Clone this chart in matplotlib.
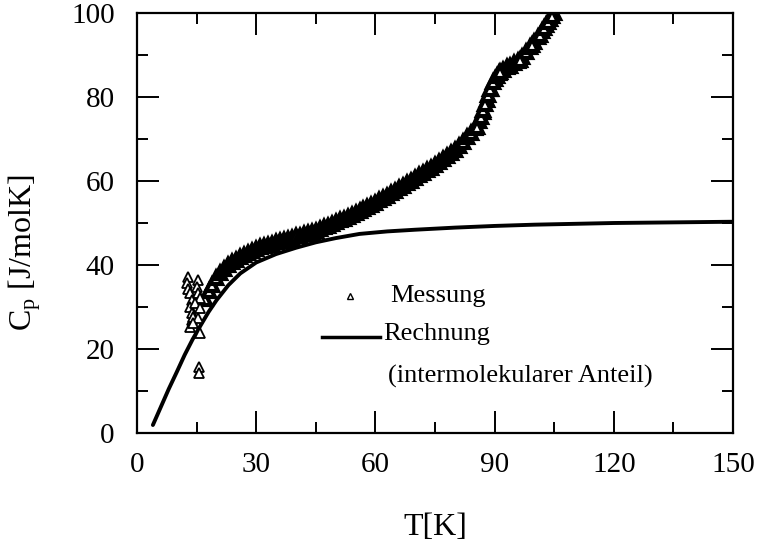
import matplotlib
matplotlib.use('Agg')
import matplotlib.pyplot as plt
from matplotlib.ticker import MultipleLocator

plt.rcParams['font.family'] = ['Liberation Serif', 'DejaVu Serif']
plt.rcParams['mathtext.fontset'] = 'custom'
plt.rcParams['mathtext.rm'] = 'Liberation Serif'
plt.rcParams['mathtext.it'] = 'Liberation Serif:italic'

# Messung: scattered low-temperature points
t_low = [12.9, 12.5, 12.9, 13.4, 13.8, 13.4, 13.8, 13.8, 13.4, 15.4, 15.0,
         15.4, 15.9, 14.6, 15.9, 14.2, 15.4, 14.2, 15.9, 15.7, 15.7]
cp_low = [37.2, 35.6, 34.4, 33.3, 31.7, 30.1, 28.5, 26.9, 25.3, 36.4, 34.8,
          33.3, 32.1, 30.9, 29.7, 27.7, 27.3, 26.1, 23.7, 15.8, 14.2]

# Messung: dense band
t_meas = [17, 18, 19, 20, 21, 22, 23, 24, 25, 26, 27, 28, 29, 30, 31, 32, 33,
          34, 35, 36, 37, 38, 39, 40, 41, 42, 43, 44, 45, 46, 47, 48, 49, 50,
          51, 52, 53, 54, 55, 56, 57, 58, 59, 60, 61, 62, 63, 64, 65, 66, 67,
          68, 69, 70, 71, 72, 73, 74, 75, 76, 77, 78, 79, 80, 81, 82, 83, 84,
          85, 86, 87, 88, 89, 90, 91, 92, 93, 94, 95, 96, 97, 98, 99, 100,
          101, 102, 103, 104, 105]
cp_meas = [32.0, 33.8, 35.3, 36.8, 38.0, 39.0, 39.9, 40.6, 41.3, 41.9, 42.4,
           42.9, 43.4, 43.8, 44.2, 44.5, 44.8, 45.1, 45.4, 45.7, 46.0, 46.2,
           46.5, 46.8, 47.0, 47.3, 47.6, 47.9, 48.2, 48.6, 49.0, 49.4, 49.8,
           50.2, 50.6, 51.0, 51.4, 51.9, 52.3, 52.8, 53.3, 53.8, 54.3, 54.8,
           55.4, 56.0, 56.5, 57.1, 57.7, 58.3, 58.9, 59.5, 60.1, 60.8, 61.4,
           62.0, 62.6, 63.2, 63.8, 64.5, 65.2, 65.9, 66.6, 67.3, 68.3, 69.3,
           70.4, 71.5, 72.6, 74.2, 76.4, 79.3, 82.0, 84.2, 85.6, 86.5, 87.1,
           87.5, 88.0, 88.6, 89.5, 90.6, 91.8, 93.1, 94.4, 95.7, 97.1, 98.6,
           100.1]
# extra readings in the steep part of the band
t_meas_steep = [85.6, 86.5, 87.2, 87.7, 88.4, 88.9, 89.7, 90.5, 91.4, 96.5,
                99.5, 101.5, 102.5, 103.5, 104.5]
cp_meas_steep = [72.9, 75.2, 76.9, 78.4, 80.5, 82.0, 83.6, 85.0, 86.0, 88.8,
                 92.4, 94.8, 96.4, 97.8, 99.3]

# Rechnung (intermolekularer Anteil)
t_calc = [4, 6, 8, 10, 12, 14, 16, 18, 20, 23, 26, 30, 35, 40, 45, 50, 56,
          63, 70, 80, 90, 100, 110, 120, 130, 140, 150]
cp_calc = [1.9, 6.2, 10.5, 14.5, 18.6, 22.3, 25.6, 28.8, 31.6, 35.2, 38.0,
           40.6, 42.6, 44.1, 45.4, 46.4, 47.4, 48.0, 48.4, 48.9, 49.3, 49.6,
           49.8, 50.0, 50.1, 50.2, 50.3]

fig = plt.figure(figsize=(7.61, 5.42), dpi=100)
ax = fig.add_axes([137/761, 1-433/542, 596/761, 420/542])

ax.plot(t_calc, cp_calc, color='black', lw=2.8, solid_capstyle='round')
band = dict(ls='none', marker='^', mfc='white', mec='black', ms=8, mew=3)
ax.plot(t_meas, cp_meas, **band)
ax.plot(t_meas_steep, cp_meas_steep, **band)
ax.plot(t_low, cp_low, ls='none', marker='^', mfc='white', mec='black',
        ms=7, mew=1.3)

ax.set_xlim(0, 150)
ax.set_ylim(0, 100)
ax.xaxis.set_major_locator(MultipleLocator(30))
ax.xaxis.set_minor_locator(MultipleLocator(15))
ax.yaxis.set_major_locator(MultipleLocator(20))
ax.yaxis.set_minor_locator(MultipleLocator(10))
ax.tick_params(which='both', direction='in', top=True, right=True, width=1.4)
ax.tick_params(which='major', length=16, labelsize=21)
ax.tick_params(axis='x', which='major', pad=14)
ax.tick_params(axis='y', which='major', pad=16)
ax.tick_params(which='minor', length=8)
for s in ax.spines.values():
    s.set_linewidth(1.6)

ax.set_xlabel('T[K]', fontsize=23)
ax.xaxis.set_label_coords(0.5, -0.19)
ax.set_ylabel(r'C$_\mathrm{p}$ [J/molK]', fontsize=23)
ax.yaxis.set_label_coords(-0.158, 0.43)

# legend drawn by hand
tr = ax.transAxes
ax.plot([(350-137)/596], [(433-296)/420], transform=tr, ls='none',
        marker='^', mfc='white', mec='black', ms=5, mew=1.0)
ax.text((390-137)/596, (433-296)/420, 'Messung', transform=tr,
        fontsize=19, va='center', ha='left')
ax.plot([(322-137)/596, (380-137)/596], [(433-337)/420]*2, transform=tr,
        color='black', lw=2.5)
ax.text((383-137)/596, (433-334)/420, 'Rechnung', transform=tr,
        fontsize=19, va='center', ha='left')
ax.text((388-137)/596, (433-376)/420, '(intermolekularer Anteil)',
        transform=tr, fontsize=19, va='center', ha='left')

fig.savefig('out.png', dpi=100)
